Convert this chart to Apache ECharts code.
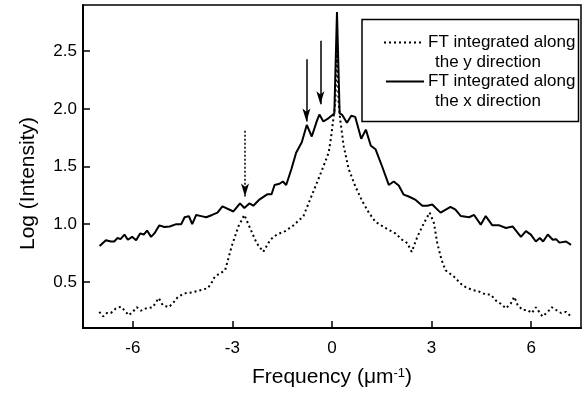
<!DOCTYPE html>
<html><head><meta charset="utf-8">
<script src="https://cdn.jsdelivr.net/npm/echarts@6/dist/echarts.min.js"></script>
<style>html,body{margin:0;padding:0;background:#fff}#c{width:585px;height:398px}</style>
</head><body><div id="c"></div>
<script>
const xTicks = [-6, -3, 0, 3, 6];
const yTicks = [0.5, 1.0, 1.5, 2.0, 2.5];
const nameY = 'FT integrated along the y direction';
const nameX = 'FT integrated along the x direction';

// FT integrated along the x direction (solid)
const xDirF = [-7.00,-6.81,-6.66,-6.56,-6.46,-6.37,-6.25,-6.15,-6.02,-5.90,-5.78,-5.67,-5.57,-5.45,-5.35,-5.20,-5.05,-4.89,-4.69,-4.54,-4.44,-4.31,-4.21,-4.09,-3.94,-3.79,-3.61,-3.45,-3.30,-2.97,-2.77,-2.64,-2.49,-2.37,-2.20,-1.94,-1.82,-1.73,-1.58,-1.48,-1.38,-1.22,-1.08,-0.91,-0.76,-0.61,-0.45,-0.38,-0.26,-0.10,0.07,0.15,0.23,0.30,0.45,0.58,0.70,0.88,1.02,1.17,1.31,1.51,1.71,1.86,2.01,2.16,2.31,2.52,2.72,2.87,3.02,3.27,3.57,3.72,3.88,4.13,4.28,4.48,4.63,4.83,5.04,5.24,5.44,5.69,5.84,5.99,6.14,6.26,6.36,6.50,6.65,6.75,6.85,7.05,7.20];
const xDirI = [0.81,0.86,0.85,0.85,0.88,0.87,0.91,0.865,0.89,0.86,0.92,0.91,0.945,0.89,0.92,0.99,0.975,0.98,1.00,1.00,1.06,1.07,1.00,1.08,1.07,1.06,1.08,1.10,1.155,1.11,1.18,1.14,1.18,1.16,1.21,1.26,1.26,1.34,1.35,1.37,1.34,1.48,1.62,1.71,1.86,1.76,1.90,1.95,1.89,1.92,1.96,2.84,1.96,1.95,1.88,1.94,1.93,1.74,1.82,1.68,1.65,1.50,1.34,1.37,1.335,1.256,1.24,1.21,1.16,1.16,1.17,1.10,1.15,1.126,1.07,1.06,1.08,0.996,1.07,0.99,0.99,0.967,0.98,0.89,0.94,0.91,0.85,0.88,0.85,0.91,0.865,0.87,0.84,0.85,0.82];

// FT integrated along the y direction (dotted)
const yDirF = [-7.01,-6.89,-6.78,-6.66,-6.51,-6.36,-6.24,-6.12,-6.00,-5.88,-5.75,-5.60,-5.40,-5.22,-5.10,-4.92,-4.79,-4.64,-4.44,-4.19,-3.94,-3.74,-3.61,-3.53,-3.22,-3.02,-2.82,-2.64,-2.47,-2.27,-2.07,-1.86,-1.66,-1.41,-1.16,-0.86,-0.58,-0.30,-0.10,-0.03,0.10,0.15,0.20,0.25,0.35,0.50,0.70,0.91,1.11,1.31,1.61,1.91,2.11,2.27,2.40,2.57,2.77,2.94,3.07,3.17,3.30,3.42,3.67,3.93,4.03,4.23,4.43,4.63,4.78,4.93,5.08,5.24,5.39,5.49,5.59,5.74,5.89,6.02,6.14,6.34,6.50,6.62,6.75,6.90,7.05,7.20];
const yDirI = [0.24,0.20,0.23,0.23,0.27,0.285,0.25,0.21,0.24,0.28,0.25,0.27,0.28,0.36,0.30,0.28,0.315,0.37,0.40,0.41,0.43,0.445,0.50,0.546,0.60,0.81,0.98,1.08,0.967,0.836,0.76,0.865,0.91,0.94,0.99,1.07,1.27,1.47,1.62,1.75,2.05,2.50,2.05,1.90,1.68,1.48,1.33,1.20,1.10,1.02,0.967,0.92,0.865,0.836,0.76,0.89,1.01,1.10,1.01,0.836,0.69,0.60,0.546,0.47,0.454,0.43,0.416,0.39,0.39,0.34,0.31,0.27,0.315,0.37,0.30,0.256,0.256,0.23,0.28,0.20,0.24,0.28,0.256,0.23,0.24,0.20];

// arrows: [frequency, startLog, tipLog]
const solidArrows = [[-0.77, 2.43, 1.89], [-0.35, 2.59, 2.04]];
const dottedArrows = [[-2.62, 1.81, 1.24]];

const FONT = '"Liberation Sans", Arial, sans-serif';
const pairs = (a, b) => a.map((v, i) => [v, b[i]]);
const arrowData = arr => arr.map(a => [{coord: [a[0], a[1]]}, {coord: [a[0], a[2]]}]);

const chart = echarts.init(document.getElementById('c'), null, {renderer: 'canvas'});
chart.setOption({
  animation: false,
  backgroundColor: '#fff',
  grid: {left: 83, right: 4, top: 5, bottom: 70, show: true, borderColor: '#000', borderWidth: 1.5, backgroundColor: 'transparent'},
  xAxis: {
    type: 'value', min: -7.5, max: 7.5,
    axisLine: {show: true, onZero: false, lineStyle: {color: '#000', width: 2}},
    axisTick: {show: true, inside: true, length: 7, lineStyle: {color: '#000', width: 1.5}, customValues: xTicks},
    axisLabel: {customValues: xTicks, margin: 12, fontSize: 17, color: '#000', fontFamily: FONT},
    splitLine: {show: false},
    name: 'Frequency (μm{sup|-1})', nameLocation: 'middle', nameGap: 39,
    nameTextStyle: {fontSize: 21, color: '#000', fontFamily: FONT,
      rich: {sup: {fontSize: 13, color: '#000', fontFamily: FONT, verticalAlign: 'top'}}}
  },
  yAxis: {
    type: 'value', min: 0.1, max: 2.9,
    axisLine: {show: true, onZero: false, lineStyle: {color: '#000', width: 2}},
    axisTick: {show: true, inside: true, length: 7, lineStyle: {color: '#000', width: 1.5}, customValues: yTicks},
    axisLabel: {customValues: yTicks, margin: 6, fontSize: 17, color: '#000', fontFamily: FONT, formatter: v => v.toFixed(1)},
    splitLine: {show: false},
    name: 'Log (Intensity)', nameLocation: 'middle', nameRotate: 90, nameGap: 44,
    nameTextStyle: {fontSize: 21, color: '#000', fontFamily: FONT, padding: [0, 34, 0, 0]}
  },
  series: [
    {
      name: nameY, type: 'line', data: pairs(yDirF, yDirI), showSymbol: false, silent: true,
      lineStyle: {color: '#000', width: 2, type: [2, 3]},
      markLine: {silent: true, symbol: ['none', 'arrow'], symbolSize: [6, 13], label: {show: false},
        lineStyle: {color: '#000', width: 1.5, type: [2, 2]}, data: arrowData(dottedArrows)}
    },
    {
      name: nameX, type: 'line', data: pairs(xDirF, xDirI), showSymbol: false, silent: true,
      lineStyle: {color: '#000', width: 2},
      markLine: {silent: true, symbol: ['none', 'arrow'], symbolSize: [6, 13], label: {show: false},
        lineStyle: {color: '#000', width: 1.5, type: 'solid'}, data: arrowData(solidArrows)}
    }
  ],
  graphic: [
    {type: 'rect', shape: {x: 362, y: 19.5, width: 216.5, height: 102}, style: {fill: '#fff', stroke: '#000', lineWidth: 1.5}, z: 100},
    {type: 'line', shape: {x1: 384, y1: 42.5, x2: 424, y2: 42.5}, style: {stroke: '#000', lineWidth: 2, lineDash: [2, 3]}, z: 101},
    {type: 'line', shape: {x1: 386, y1: 81.5, x2: 424, y2: 81.5}, style: {stroke: '#000', lineWidth: 2}, z: 101},
    {type: 'text', style: {text: 'FT integrated along', x: 428, y: 42.5, font: '17px ' + FONT, fill: '#000', textVerticalAlign: 'middle'}, z: 101},
    {type: 'text', style: {text: 'the y direction', x: 435, y: 62, font: '17px ' + FONT, fill: '#000', textVerticalAlign: 'middle'}, z: 101},
    {type: 'text', style: {text: 'FT integrated along', x: 428, y: 81.5, font: '17px ' + FONT, fill: '#000', textVerticalAlign: 'middle'}, z: 101},
    {type: 'text', style: {text: 'the x direction', x: 435, y: 101.5, font: '17px ' + FONT, fill: '#000', textVerticalAlign: 'middle'}, z: 101}
  ]
});
</script>
</body></html>
